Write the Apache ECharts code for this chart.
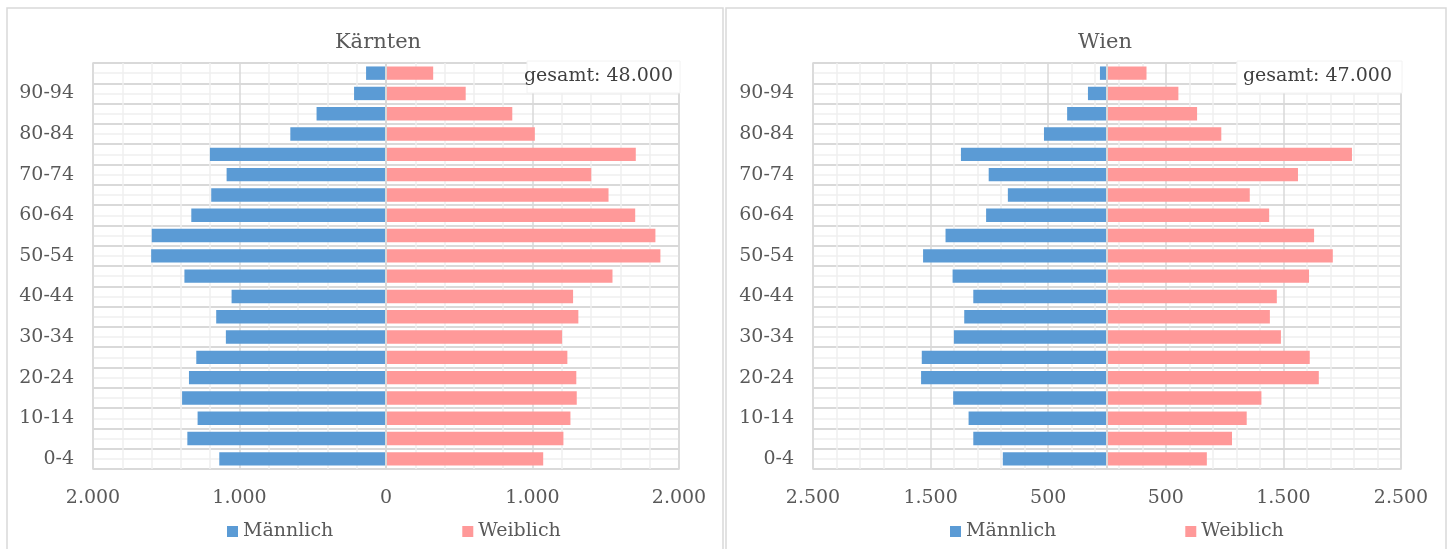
<!DOCTYPE html>
<html>
<head>
<meta charset="utf-8">
<script src="https://cdn.jsdelivr.net/npm/echarts@6/dist/echarts.min.js"></script>
<style>
  html, body { margin: 0; padding: 0; background: #ffffff; }
  #chart { width: 1450px; height: 549px; }
</style>
</head>
<body>
<div id="chart"></div>
<script>
// ---- Data ----
const ageGroups = ['0-4','5-9','10-14','15-19','20-24','25-29','30-34','35-39','40-44','45-49',
                   '50-54','55-59','60-64','65-69','70-74','75-79','80-84','85-89','90-94','95+'];

const kaerntenMale   = [1138,1356,1286,1392,1345,1295,1093,1159,1054,1376,1603,1599,1329,1193,1088,1202,653,474,218,136];
const kaerntenFemale = [1073,1211,1259,1302,1299,1238,1202,1313,1277,1546,1873,1839,1701,1519,1401,1705,1016,862,544,322];

const wienMale   = [886,1137,1177,1308,1581,1575,1302,1214,1137,1313,1564,1373,1028,843,1006,1242,536,339,162,60];
const wienFemale = [849,1063,1188,1313,1801,1724,1479,1385,1444,1718,1920,1761,1379,1214,1624,2083,972,766,607,336];

const seriesNames = ['Männlich', 'Weiblich'];
const panelTitles = ['Kärnten', 'Wien'];
const totalLabels = ['gesamt: 48.000', 'gesamt: 47.000'];
const kaerntenAxis = { min: -2000, max: 2000, interval: 1000 };
const wienAxis     = { min: -2500, max: 2500, interval: 1000 };

// ---- Styles ----
const FONT = 'DejaVu Serif';
const TXT = '#595959';
const MAJOR = '#d9d9d9';
const MINOR = '#efefef';
const BLUE = '#5b9bd5';
const PINK = '#ff9999';

function fmt(v) {
  return String(Math.abs(v)).replace(/\B(?=(\d{3})+(?!\d))/g, '.');
}

const chart = echarts.init(document.getElementById('chart'), null, { renderer: 'canvas' });

function xAxisFor(gridIndex, ax) {
  return {
    type: 'value', gridIndex: gridIndex,
    min: ax.min, max: ax.max, interval: ax.interval,
    axisLine: { show: false }, axisTick: { show: false },
    axisLabel: { formatter: fmt, color: TXT, fontFamily: FONT, fontSize: 19, margin: 20 },
    splitLine: { show: true, lineStyle: { color: MAJOR, width: 1.5 } },
    minorTick: { show: false, splitNumber: 5 },
    minorSplitLine: { show: true, lineStyle: { color: MINOR, width: 1.5 } }
  };
}
function catAxisFor(gridIndex) {
  return {
    type: 'category', gridIndex: gridIndex, data: ageGroups,
    axisLine: { show: false }, axisTick: { show: false },
    splitLine: { show: false },
    axisLabel: { interval: 1, color: TXT, fontFamily: FONT, fontSize: 19, margin: 19,
                 verticalAlign: 'middle', padding: [6, 0, 0, 0] }
  };
}
function gridLineAxisFor(gridIndex) {
  return {
    type: 'value', gridIndex: gridIndex, min: 0, max: ageGroups.length, interval: 1,
    axisLine: { show: false }, axisTick: { show: false }, axisLabel: { show: false },
    splitLine: { show: true, lineStyle: { color: MAJOR, width: 2 } },
    minorTick: { show: false, splitNumber: 2 },
    minorSplitLine: { show: true, lineStyle: { color: MINOR, width: 1.5 } }
  };
}
function barSeries(name, color, data, xi, yi, withZero) {
  const s = {
    name: name, type: 'bar', xAxisIndex: xi, yAxisIndex: yi,
    data: data, barWidth: '66%', barGap: '-100%',
    itemStyle: { color: color },
    animation: false, silent: true
  };
  if (withZero) {
    s.markLine = {
      silent: true, symbol: ['none', 'none'], label: { show: false },
      lineStyle: { color: MAJOR, width: 2, type: 'solid' },
      data: [{ xAxis: 0 }], animation: false
    };
  }
  return s;
}

const legendCommon = {
  data: seriesNames, icon: 'rect', itemWidth: 11, itemHeight: 11, itemGap: 129,
  top: 517, selectedMode: false,
  textStyle: { color: TXT, fontFamily: FONT, fontSize: 19 }
};

const option = {
  animation: false,
  color: [BLUE, PINK],
  grid: [
    { left: 93, top: 63, width: 586, height: 406, show: true, borderColor: MAJOR, borderWidth: 1.5, backgroundColor: 'transparent' },
    { left: 813, top: 63, width: 588, height: 406, show: true, borderColor: MAJOR, borderWidth: 1.5, backgroundColor: 'transparent' }
  ],
  xAxis: [ xAxisFor(0, kaerntenAxis), xAxisFor(1, wienAxis) ],
  yAxis: [ catAxisFor(0), gridLineAxisFor(0), catAxisFor(1), gridLineAxisFor(1) ],
  legend: [
    Object.assign({}, legendCommon, { left: 222 }),
    Object.assign({}, legendCommon, { left: 945 })
  ],
  series: [
    barSeries(seriesNames[0], BLUE, kaerntenMale.map(v => -v), 0, 0, true),
    barSeries(seriesNames[1], PINK, kaerntenFemale, 0, 0, false),
    barSeries(seriesNames[0], BLUE, wienMale.map(v => -v), 1, 2, true),
    barSeries(seriesNames[1], PINK, wienFemale, 1, 2, false)
  ],
  graphic: [
    { type: 'rect', shape: { x: 7, y: 8, width: 716, height: 560 }, style: { fill: 'none', stroke: MAJOR, lineWidth: 1.5 }, z: 0, silent: true },
    { type: 'rect', shape: { x: 726, y: 8, width: 720, height: 560 }, style: { fill: 'none', stroke: MAJOR, lineWidth: 1.5 }, z: 0, silent: true },
    { type: 'text', x: 378, y: 43, style: { text: panelTitles[0], fill: TXT, font: '21px "DejaVu Serif"', textAlign: 'center', textVerticalAlign: 'middle' }, z: 10, silent: true },
    { type: 'text', x: 1105, y: 43, style: { text: panelTitles[1], fill: TXT, font: '21px "DejaVu Serif"', textAlign: 'center', textVerticalAlign: 'middle' }, z: 10, silent: true },
    { type: 'rect', shape: { x: 527, y: 61, width: 153, height: 32 }, style: { fill: '#ffffff', stroke: '#f2f2f2', lineWidth: 1 }, z: 10, silent: true },
    { type: 'text', x: 673, y: 76, style: { text: totalLabels[0], fill: '#404040', font: '19px "DejaVu Serif"', textAlign: 'right', textVerticalAlign: 'middle' }, z: 11, silent: true },
    { type: 'rect', shape: { x: 1237, y: 61, width: 165, height: 32 }, style: { fill: '#ffffff', stroke: '#f2f2f2', lineWidth: 1 }, z: 10, silent: true },
    { type: 'text', x: 1392, y: 76, style: { text: totalLabels[1], fill: '#404040', font: '19px "DejaVu Serif"', textAlign: 'right', textVerticalAlign: 'middle' }, z: 11, silent: true }
  ]
};
chart.setOption(option);
</script>
</body>
</html>
